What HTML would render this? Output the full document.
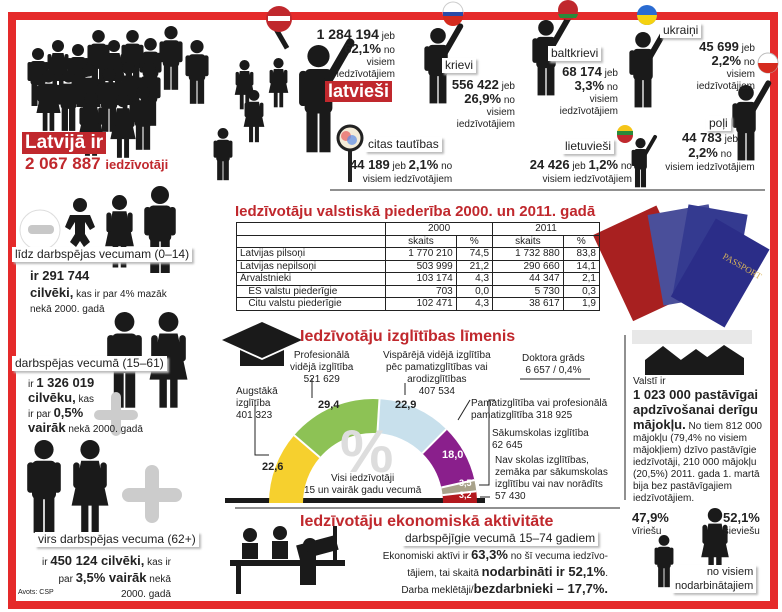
<!DOCTYPE html>
<html><head><meta charset="utf-8">
<style>
*{margin:0;padding:0;box-sizing:border-box}
body{width:782px;height:612px;background:#fff;position:relative;overflow:hidden;font-family:"Liberation Sans",sans-serif;color:#222}
.a{position:absolute;white-space:nowrap}
.lbl{position:absolute;background:#fff;font-size:12px;padding:0 3px;box-shadow:2px 2px 2px #bbb;white-space:nowrap;line-height:15px}
.r{color:#c0282d}
.b{font-weight:bold}
.s{font-size:10px}
.t td{border:1px solid #222;font-size:10px;line-height:11.5px;padding:0 3px;text-align:right}
.t td:first-child{text-align:left}
.t{border-collapse:collapse;position:absolute;left:236px;top:222px;width:364px}
</style></head><body>
<svg width="782" height="612" style="position:absolute;left:0;top:0">
<defs>
<g id="m"><circle cx="10" cy="6" r="6"/><rect x="2.5" y="13" width="15" height="24" rx="3"/><rect x="-0.5" y="14" width="4.5" height="19" rx="2"/><rect x="16" y="14" width="4.5" height="19" rx="2"/><rect x="3.5" y="34" width="6" height="24"/><rect x="10.5" y="34" width="6" height="24"/></g>
<g id="w"><circle cx="10" cy="6" r="6"/><path d="M4.5 13h11l6 28H-1.5z"/><rect x="-0.5" y="14" width="4" height="16" rx="2"/><rect x="16.5" y="14" width="4" height="16" rx="2"/><rect x="4.5" y="40" width="4.5" height="18"/><rect x="11" y="40" width="4.5" height="18"/></g>
<g id="hm"><circle cx="10" cy="6" r="6"/><rect x="2.5" y="13" width="15" height="24" rx="3"/><rect x="16" y="-6" width="4.5" height="28" rx="2" transform="rotate(30 18 14)"/><rect x="-0.5" y="14" width="4.5" height="19" rx="2"/><rect x="3.5" y="34" width="6" height="24"/><rect x="10.5" y="34" width="6" height="24"/></g>
</defs>
<rect x="12" y="16" width="762" height="589" fill="none" stroke="#e52a2a" stroke-width="8"/>
<!-- passports -->
<g transform="rotate(-25 640 265)"><rect x="610" y="218" width="70" height="95" fill="#a82020"/></g>
<g transform="rotate(-10 680 255)"><rect x="655" y="210" width="62" height="92" fill="#4a4f9a"/></g>
<g transform="rotate(10 705 255)"><rect x="680" y="208" width="60" height="92" fill="#343a90"/></g>
<g transform="rotate(30 715 270)"><rect x="690" y="225" width="62" height="90" fill="#2b2d88"/></g>
<text x="722" y="258" font-size="9" fill="#d8b45a" transform="rotate(30 722 258)" font-family="Liberation Serif">PASSPORT</text>
<rect x="632" y="330" width="120" height="14" fill="#e8e8e8"/>
<g fill="#1a1a1a">
<use href="#m" transform="translate(28,48) scale(1)"/><use href="#w" transform="translate(48,40) scale(1)"/><use href="#m" transform="translate(68,44) scale(1)"/><use href="#m" transform="translate(88,30) scale(1.05)"/><use href="#w" transform="translate(104,40) scale(1)"/><use href="#m" transform="translate(122,30) scale(1.05)"/><use href="#m" transform="translate(140,38) scale(1.05)"/><use href="#m" transform="translate(160,26) scale(1.1)"/><use href="#m" transform="translate(186,40) scale(1.1)"/>
<use href="#w" transform="translate(38,70) scale(1.05)"/><use href="#m" transform="translate(58,70) scale(1.05)"/><use href="#w" transform="translate(78,64) scale(1.05)"/><use href="#m" transform="translate(98,68) scale(1.1)"/><use href="#w" transform="translate(118,62) scale(1.05)"/><use href="#m" transform="translate(138,62) scale(1.1)"/>
<use href="#w" transform="translate(80,92) scale(1.1)"/><use href="#w" transform="translate(112,94) scale(1.1)"/><use href="#m" transform="translate(132,86) scale(1.1)"/>
<use href="#w" transform="translate(236,60) scale(0.85)"/><use href="#w" transform="translate(270,58) scale(0.85)"/><use href="#w" transform="translate(245,90) scale(0.9)"/><use href="#m" transform="translate(214,128) scale(0.9)"/>
<use href="#hm" transform="translate(300,45) scale(1.85)"/>
<rect x="277" y="20" width="5" height="30" transform="rotate(-30 280 35)"/>
<use href="#hm" transform="translate(425,28) scale(1.3)"/>
<use href="#hm" transform="translate(533,20) scale(1.3)"/>
<use href="#hm" transform="translate(630,32) scale(1.3)"/>
<use href="#hm" transform="translate(733,85) scale(1.3)"/>
<use href="#hm" transform="translate(632,138) scale(0.85)"/>
<circle cx="80" cy="205" r="7"/><path d="M70 215h20l5 12-5 3-5-8v12l5 8-6 5-4-6-4 6-6-5 5-8v-12l-5 8-5-3z"/>
<use href="#w" transform="translate(107,195) scale(1.25)"/><use href="#m" transform="translate(145,186) scale(1.5)"/>
<use href="#m" transform="translate(108,312) scale(1.65)"/><use href="#w" transform="translate(152,312) scale(1.65)"/>
<use href="#m" transform="translate(28,440) scale(1.6)"/><use href="#w" transform="translate(74,440) scale(1.6)"/>
<path d="M222 340l40-18 40 18-40 18z"/><path d="M240 350v16h44v-16l-22 10z"/>
<path d="M645 360l18-14 18 14v15h-36z"/><path d="M678 362l18-13 18 13v13h-36z"/><path d="M706 358l18-13 20 13v17h-38z"/>
<rect x="230" y="560" width="115" height="6"/><rect x="236" y="566" width="5" height="28"/><circle cx="250" cy="535" r="7"/><rect x="242" y="543" width="16" height="16"/><circle cx="280" cy="533" r="7"/><rect x="272" y="541" width="16" height="18"/><rect x="300" y="545" width="40" height="15" transform="rotate(-15 300 560)"/><circle cx="310" cy="545" r="7"/><rect x="300" y="555" width="16" height="30"/><rect x="333" y="526" width="4" height="34"/>
<use href="#m" transform="translate(655,535) scale(0.9)"/><use href="#w" transform="translate(703,508) scale(1.2)"/>
<rect x="225" y="498" width="260" height="5"/>
</g>
<circle cx="279" cy="19" r="13" fill="#c0282d"/><rect x="268" y="16" width="22" height="5" fill="#fff"/>
<circle cx="453" cy="12" r="10" fill="#fff" stroke="#ccc"/><rect x="443" y="12" width="20" height="4" fill="#2a4ba8"/><path d="M443 16h20a10 10 0 0 1-20 0" fill="#d52b1e"/>
<circle cx="568" cy="10" r="10" fill="#c0282d"/><path d="M558 14h20a10 10 0 0 1-2 4h-16z" fill="#2a8a3a"/>
<circle cx="647" cy="15" r="10" fill="#2a6bd1"/><path d="M637 15h20a10 10 0 0 1-20 0" fill="#f5d210"/>
<circle cx="768" cy="63" r="10" fill="#fff" stroke="#bbb"/><path d="M758 63h20a10 10 0 0 1-20 0" fill="#d52b1e"/>
<circle cx="625" cy="133" r="8" fill="#f5c518"/><rect x="617" y="131" width="16" height="4" fill="#2a8a3a"/><path d="M617 135h16a8 8 0 0 1-16 0" fill="#c0282d"/>
<circle cx="350" cy="138" r="12" fill="#f4ecd8" stroke="#222" stroke-width="3"/><rect x="348" y="150" width="4" height="32" fill="#222"/><circle cx="346" cy="136" r="5" fill="#e85b5b" opacity=".7"/><circle cx="352" cy="140" r="5" fill="#5b8de8" opacity=".7"/>
<circle cx="40" cy="230" r="20" fill="none" stroke="#ddd"/><rect x="28" y="225" width="26" height="9" rx="4" fill="#c8c8c8"/>
<rect x="94" y="410" width="44" height="10" rx="5" fill="#ccc"/><rect x="111" y="392" width="10" height="44" rx="5" fill="#ccc"/>
<rect x="122" y="488" width="60" height="14" rx="7" fill="#ccc"/><rect x="145" y="465" width="14" height="58" rx="7" fill="#ccc"/>
<line x1="330" y1="190" x2="765" y2="190" stroke="#222"/>
<line x1="235" y1="508" x2="620" y2="508" stroke="#222"/>
<line x1="625" y1="335" x2="625" y2="500" stroke="#222"/>
<line x1="520" y1="379" x2="590" y2="379" stroke="#222"/>
<path d="M269 503A104 104 0 0 1 294.2 435.2L319.9 457.4A70 70 0 0 0 303 503Z" fill="#f6d02e"/>
<path d="M294.2 435.2A104 104 0 0 1 379.5 399.2L377.4 433.1A70 70 0 0 0 319.9 457.4Z" fill="#8dc255"/>
<path d="M379.5 399.2A104 104 0 0 1 446.3 429.2L422.3 453.3A70 70 0 0 0 377.4 433.1Z" fill="#c8e0ec"/>
<path d="M446.3 429.2A104 104 0 0 1 474.4 480L441.3 487.5A70 70 0 0 0 422.3 453.3Z" fill="#8a1f8c"/>
<path d="M474.4 480A104 104 0 0 1 476.3 491.2L442.6 495.1A70 70 0 0 0 441.3 487.5Z" fill="#a8a28a"/>
<path d="M476.3 491.2A104 104 0 0 1 477 503L443 503A70 70 0 0 0 442.6 495.1Z" fill="#b3191e"/>
<g stroke="#fff" stroke-width="2"><line x1="294.2" y1="435.2" x2="319.9" y2="457.4"/><line x1="379.5" y1="399.2" x2="377.4" y2="433.1"/><line x1="446.3" y1="429.2" x2="422.3" y2="453.3"/><line x1="474.4" y1="480" x2="441.3" y2="487.5"/><line x1="476.3" y1="491.2" x2="442.6" y2="495.1"/></g>
<text x="340" y="472" font-size="60" font-weight="bold" fill="#ddd" font-family="Liberation Sans">%</text>
<g font-family="Liberation Sans" font-size="11" font-weight="bold" fill="#222"><text x="262" y="470">22,6</text><text x="318" y="408">29,4</text><text x="395" y="408">22,9</text><text x="442" y="458" fill="#fff">18,0</text><text x="459" y="486" fill="#fff" font-size="9">3,5</text><text x="459" y="498" fill="#fff" font-size="9">3,2</text></g>
<g stroke="#222" fill="none"><path d="M255 405v50h14"/><path d="M312 378v20"/><path d="M405 383v12"/><path d="M470 400l-12 20"/><path d="M495 400h-6v85h-10"/><path d="M490 497h-10"/></g>
</svg>

<div class="a b" style="left:22px;top:132px;background:#c0282d;color:#fff;font-size:19px;padding:0 3px;line-height:22px">Latvijā ir</div>
<div class="a b r" style="left:25px;top:154px;font-size:17px">2 067 887 <span style="font-size:13px">iedzīvotāji</span></div>
<div class="a" style="right:387px;top:28px;text-align:right;font-size:10px;line-height:12px"><b style="font-size:14px">1 284 194</b> jeb<br><b style="font-size:13px">62,1%</b> no<br>visiem<br>iedzīvotājiem</div>
<div class="a b" style="left:325px;top:81px;background:#c0282d;color:#fff;font-size:18px;padding:0 3px;line-height:21px">latvieši</div>
<div class="lbl" style="left:442px;top:58px">krievi</div>
<div class="a" style="right:267px;top:79px;text-align:right;font-size:10px;line-height:12px"><b style="font-size:13px">556 422</b> jeb<br><b style="font-size:13px">26,9%</b> no<br>visiem<br>iedzīvotājiem</div>
<div class="lbl" style="left:548px;top:46px">baltkrievi</div>
<div class="a" style="right:164px;top:66px;text-align:right;font-size:10px;line-height:12px"><b style="font-size:13px">68 174</b> jeb<br><b style="font-size:13px">3,3%</b> no<br>visiem<br>iedzīvotājiem</div>
<div class="lbl" style="left:660px;top:23px">ukraiņi</div>
<div class="a" style="right:27px;top:41px;text-align:right;font-size:10px;line-height:12px"><b style="font-size:13px">45 699</b> jeb<br><b style="font-size:13px">2,2%</b> no<br>visiem<br>iedzīvotājiem</div>
<div class="lbl" style="left:706px;top:116px">poļi</div>
<div class="a" style="left:660px;top:131px;text-align:center;font-size:10px;line-height:13px;width:100px"><b style="font-size:13px">44 783</b> jeb<br><b style="font-size:13px">2,2%</b> no<br>visiem iedzīvotājiem</div>
<div class="lbl" style="left:562px;top:139px">lietuvieši</div>
<div class="a" style="left:520px;top:158px;font-size:10px;line-height:13px;text-align:right;width:112px"><b style="font-size:13px">24 426</b> jeb <b style="font-size:13px">1,2%</b> no<br>visiem iedzīvotājiem</div>
<div class="lbl" style="left:365px;top:137px">citas tautības</div>
<div class="a" style="left:350px;top:158px;font-size:10px;line-height:13px;text-align:right"><b style="font-size:13px">44 189</b> jeb <b style="font-size:13px">2,1%</b> no<br>visiem iedzīvotājiem</div>

<div class="a b r" style="left:235px;top:203px;font-size:15px">Iedzīvotāju valstiskā piederība 2000. un 2011. gadā</div>
<table class="t">
<tr><td></td><td colspan="2" style="text-align:center">2000</td><td colspan="2" style="text-align:center">2011</td></tr>
<tr><td></td><td style="text-align:center">skaits</td><td style="text-align:center">%</td><td style="text-align:center">skaits</td><td style="text-align:center">%</td></tr>
<tr><td>Latvijas pilsoņi</td><td>1 770 210</td><td>74,5</td><td>1 732 880</td><td>83,8</td></tr>
<tr><td>Latvijas nepilsoņi</td><td>503 999</td><td>21,2</td><td>290 660</td><td>14,1</td></tr>
<tr><td>Ārvalstnieki</td><td>103 174</td><td>4,3</td><td>44 347</td><td>2,1</td></tr>
<tr><td>&nbsp;&nbsp;&nbsp;ES valstu piederīgie</td><td>703</td><td>0,0</td><td>5 730</td><td>0,3</td></tr>
<tr><td>&nbsp;&nbsp;&nbsp;Citu valstu piederīgie</td><td>102 471</td><td>4,3</td><td>38 617</td><td>1,9</td></tr>
</table>

<div class="a b r" style="left:300px;top:328px;font-size:16px">Iedzīvotāju izglītības līmenis</div>
<div class="a s" style="left:236px;top:386px;line-height:12px">Augstākā<br>izglītība<br>401 323</div>
<div class="a s" style="left:290px;top:350px;line-height:12px;text-align:center">Profesionālā<br>vidējā izglītība<br>521 629</div>
<div class="a s" style="left:383px;top:350px;line-height:12px;text-align:center">Vispārējā vidējā izglītība<br>pēc pamatizglītības vai<br>arodizglītības<br>407 534</div>
<div class="a s" style="left:522px;top:353px;line-height:12px;text-align:center">Doktora grāds<br>6 657 / 0,4%</div>
<div class="a s" style="left:471px;top:398px;line-height:12px">Pamatizglītība vai profesionālā<br>pamatizglītība 318 925</div>
<div class="a s" style="left:492px;top:428px;line-height:12px">Sākumskolas izglītība<br>62 645</div>
<div class="a s" style="left:495px;top:455px;line-height:12px">Nav skolas izglītības,<br>zemāka par sākumskolas<br>izglītību vai nav norādīts<br>57 430</div>
<div class="a s" style="left:304px;top:473px;line-height:12px;text-align:center">Visi iedzīvotāji<br>15 un vairāk gadu vecumā</div>

<div class="a" style="left:633px;top:376px;font-size:10px;line-height:12px;width:138px;white-space:normal">Valstī ir<br><b style="font-size:13px;line-height:13px">1 023 000 pastāvīgai apdzīvošanai derīgu mājokļu.</b> No tiem 812 000 mājokļu (79,4% no visiem mājokļiem) dzīvo pastāvīgie iedzīvotāji, 210 000 mājokļu (20,5%) 2011. gada 1. martā bija bez pastāvīgajiem iedzīvotājiem.</div>

<div class="a b r" style="left:300px;top:513px;font-size:16px">Iedzīvotāju ekonomiskā aktivitāte</div>
<div class="lbl" style="left:402px;top:531px">darbspējīgie vecumā 15–74 gadiem</div>
<div class="a" style="right:174px;top:547px;text-align:right;font-size:10px;line-height:15px">Ekonomiski aktīvi ir <b style="font-size:13px">63,3%</b> no šī vecuma iedzīvo-<br>tājiem, tai skaitā <b style="font-size:13px">nodarbināti ir 52,1%</b>.<br>Darba meklētāji/<b style="font-size:13px">bezdarbnieki – 17,7%.</b></div>
<div class="a" style="left:632px;top:512px;font-size:10px;line-height:12px"><b style="font-size:13px">47,9%</b><br>vīriešu</div>
<div class="a" style="left:723px;top:512px;font-size:10px;line-height:12px;text-align:right"><b style="font-size:13px">52,1%</b><br>sieviešu</div>
<div class="a" style="left:672px;top:565px;font-size:11px;line-height:14px;text-align:right;background:#fff;box-shadow:2px 2px 2px #bbb;padding:0 3px">no visiem<br>nodarbinātajiem</div>

<div class="lbl" style="left:12px;top:247px">līdz darbspējas vecumam (0–14)</div>
<div class="a" style="left:30px;top:268px;font-size:10px;line-height:15px"><b style="font-size:13px">ir 291 744</b><br><b style="font-size:13px">cilvēki,</b> kas ir par 4% mazāk<br>nekā 2000. gadā</div>
<div class="lbl" style="left:12px;top:356px">darbspējas vecumā (15–61)</div>
<div class="a" style="left:28px;top:376px;font-size:10px;line-height:13px">ir <b style="font-size:13px">1 326 019</b><br><b style="font-size:13px">cilvēku,</b> kas<br>ir par <b style="font-size:13px">0,5%</b><br><b style="font-size:13px">vairāk</b> nekā 2000. gadā</div>
<div class="lbl" style="left:35px;top:532px">virs darbspējas vecuma (62+)</div>
<div class="a" style="left:42px;top:553px;font-size:10px;line-height:15px;text-align:right">ir <b style="font-size:13px">450 124 cilvēki,</b> kas ir<br>par <b style="font-size:13px">3,5% vairāk</b> nekā<br>2000. gadā</div>
<div class="a" style="left:18px;top:589px;font-size:7px">Avots: CSP</div>
</body></html>
